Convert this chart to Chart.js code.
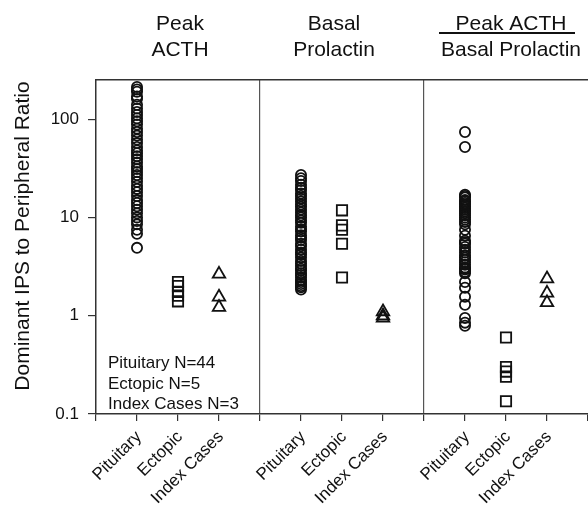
<!DOCTYPE html>
<html>
<head>
<meta charset="utf-8">
<script src="https://cdn.jsdelivr.net/npm/chart.js@4/dist/chart.umd.min.js"></script>
<style>
  html, body { margin:0; padding:0; background:#fff; }
  #wrap { width:588px; height:507px; position:relative; }
</style>
</head>
<body>
<div id="wrap"><canvas id="chart" width="588" height="507"></canvas></div>
<script>
/* ── DATA ── */
const panelTitles = [['Peak', 'ACTH'], ['Basal', 'Prolactin'], ['Peak ACTH', 'Basal Prolactin']];
const groupNames  = ['Pituitary', 'Ectopic', 'Index Cases'];
const tickLabels  = ['', 'Pituitary', 'Ectopic', 'Index Cases', '', 'Pituitary', 'Ectopic', 'Index Cases', '', 'Pituitary', 'Ectopic', 'Index Cases', ''];
const yTickValues = [0.1, 1, 10, 100];
const yTitle      = 'Dominant IPS to Peripheral Ratio';
const countNotes  = ['Pituitary N=44', 'Ectopic N=5', 'Index Cases N=3'];

// x position (category slot) of each group in each panel
const slotPit = [1, 5, 9];
const slotEct = [2, 6, 10];
const slotIdx = [3, 7, 11];

// Peak ACTH
const acthPit = [212, 200, 190, 170, 160, 140, 128, 118, 110, 102, 95, 88, 80, 74, 68, 62, 57, 52, 48, 45,
                 42, 39, 36, 33, 31, 29, 27, 25, 23, 21, 19.5, 18, 16.5, 15, 14, 13, 12, 11, 10, 9.2,
                 8.5, 7.5, 6.8, 4.9];
const acthEct = [2.2, 2.0, 1.75, 1.6, 1.4];
const acthIdx = [2.65, 1.55, 1.22];

// Basal prolactin
const prlPit = [27, 25, 23.5, 21.5, 20, 19, 17.5, 16.5, 15.5, 14.5, 13.5, 12.8, 12, 11.2, 10.5, 10, 9.3, 8.8, 8.1, 7.6,
                7.2, 6.6, 6.2, 5.9, 5.4, 5.1, 4.7, 4.4, 4.2, 3.9, 3.6, 3.4, 3.2, 3.0, 2.9, 2.7, 2.6, 2.45, 2.3, 2.2,
                2.1, 2.0, 1.95, 1.85];
const prlEct = [11.8, 8.3, 7.5, 5.4, 2.45];
const prlIdx = [1.1, 1.0, 0.95];

// Peak ACTH / basal prolactin
const ratioPit = [74, 52, 17, 16.5, 16, 15, 14.5, 14, 13.5, 13, 12.5, 12, 11.5, 11, 10.5, 10, 9.5, 9, 8.5, 7.5,
                  6.5, 5.8, 5.6, 5.4, 5, 4.7, 4.4, 4.1, 3.9, 3.7, 3.5, 3.3, 3.1, 3.0, 2.95, 2.8, 2.7, 2.2,
                  1.93, 1.56, 1.29, 0.95, 0.85, 0.79];
const ratioEct = [0.6, 0.3, 0.27, 0.24, 0.135];
const ratioIdx = [2.38, 1.7, 1.36];

/* ── BUILD ── */
function pts(slots, lists) {
  const out = [];
  lists.forEach((l, i) => l.forEach(v => out.push({x: slots[i], y: v})));
  return out;
}

const INK = '#111';
const FONT = '"Liberation Sans", Arial, Helvetica, sans-serif';

const datasets = [
  { label: groupNames[0], data: pts(slotPit, [acthPit, prlPit, ratioPit]),
    pointStyle: 'circle', pointRadius: 5.1, borderWidth: 1.8 },
  { label: groupNames[1], data: pts(slotEct, [acthEct, prlEct, ratioEct]),
    pointStyle: 'rect', pointRadius: 7.3, borderWidth: 1.8 },
  { label: groupNames[2], data: pts(slotIdx, [acthIdx, prlIdx, ratioIdx]),
    pointStyle: 'triangle', pointRadius: 7.2, borderWidth: 1.8 }
].map(d => ({ ...d, borderColor: INK, backgroundColor: 'rgba(0,0,0,0)', pointHoverRadius: d.pointRadius }));

/* titles above panels, y title, N notes */
const textPlugin = {
  id: 'panelText',
  afterDraw(chart) {
    const {ctx, chartArea, scales: {x}} = chart;
    ctx.save();
    ctx.fillStyle = INK;
    ctx.textAlign = 'center';
    ctx.textBaseline = 'alphabetic';
    ctx.font = '21px ' + FONT;
    const shift = [2, -8, 5];
    panelTitles.forEach((t, i) => {
      const cx = x.getPixelForValue(slotEct[i]) + shift[i];
      ctx.fillText(t[0], cx, 30);
      ctx.fillText(t[1], cx, 56);
    });
    // fraction bar for the ratio panel
    const cx = x.getPixelForValue(slotEct[2]) + shift[2];
    ctx.strokeStyle = INK;
    ctx.lineWidth = 2;
    ctx.beginPath();
    ctx.moveTo(cx - 72, 33);
    ctx.lineTo(cx + 64, 33);
    ctx.stroke();

    // y axis title
    ctx.save();
    ctx.translate(29, (chartArea.top + chartArea.bottom) / 2 - 11);
    ctx.rotate(-Math.PI / 2);
    ctx.fillText(yTitle, 0, 0);
    ctx.restore();

    ctx.textAlign = 'left';
    ctx.font = '17px ' + FONT;
    countNotes.forEach((s, i) => ctx.fillText(s, chartArea.left + 12, chartArea.bottom - 46 + i * 20.5));
    ctx.restore();
  }
};

new Chart(document.getElementById('chart'), {
  type: 'scatter',
  data: { datasets },
  options: {
    responsive: false,
    animation: false,
    layout: { autoPadding: false, padding: { top: 80, left: 0, right: 0, bottom: 0 } },
    plugins: { legend: { display: false }, tooltip: { enabled: false } },
    scales: {
      x: {
        type: 'linear', min: 0, max: 12,
        afterBuildTicks: s => { s.ticks = tickLabels.map((_, i) => ({ value: i })); },
        afterFit: s => { s.height = 93; s.paddingRight = 0; s.paddingLeft = 0; },
        ticks: { autoSkip: false, minRotation: 45, maxRotation: 45, padding: 6, labelOffset: 2, color: INK,
                 font: { family: FONT, size: 17 }, callback: v => tickLabels[v] || '' },
        grid: { color: c => (c.tick && (c.tick.value === 4 || c.tick.value === 8)) ? '#555' : 'rgba(0,0,0,0)',
                tickColor: '#333', tickLength: 7, lineWidth: 1.2 },
        border: { color: '#333', width: 1.5 }
      },
      xTop: {
        type: 'linear', position: 'top', min: 0, max: 12,
        afterFit: s => { s.height = 0; s.paddingRight = 0; s.paddingLeft = 0; },
        ticks: { display: false },
        grid: { display: false, drawTicks: false },
        border: { color: '#333', width: 1.5 }
      },
      y: {
        type: 'logarithmic', min: 0.1, max: 250,
        afterBuildTicks: s => { s.ticks = yTickValues.map(v => ({ value: v })); },
        afterFit: s => { s.width = 96; },
        ticks: { color: INK, padding: 9, font: { family: FONT, size: 17 }, callback: v => String(v) },
        grid: { drawOnChartArea: false, tickLength: 8, color: '#333', lineWidth: 1.2 },
        border: { color: '#333', width: 1.5 }
      }
    }
  },
  plugins: [textPlugin]
});
</script>
</body>
</html>
